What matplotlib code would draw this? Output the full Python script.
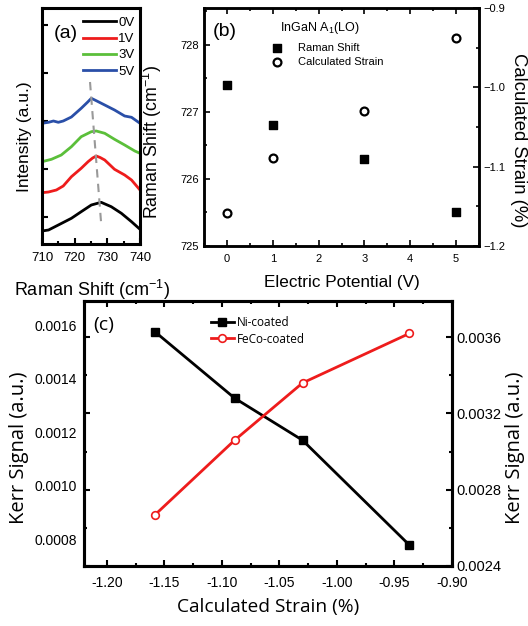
import matplotlib
matplotlib.use("Agg")
import matplotlib.pyplot as plt
from matplotlib.ticker import MultipleLocator, NullFormatter, FixedLocator

plt.rcParams['font.family'] = ['Liberation Sans', 'DejaVu Sans']
plt.rcParams['mathtext.fontset'] = 'custom'
plt.rcParams['mathtext.rm'] = 'Liberation Sans'

# ---------------- Panel (a): Raman spectra ----------------
wn_0V = [710, 712, 715, 719, 722, 725.1, 728.1, 731.2, 734.3, 737.4, 740]
int_0V = [13, 14, 19, 25.7, 32.3, 39, 41.7, 37.3, 30.7, 22.3, 14.7]
wn_1V = [710, 712, 714.4, 716.5, 719, 722, 724.1, 725.5, 726.6, 727.8, 729.2, 732.2, 735.3, 737.4, 740]
int_1V = [51.3, 52, 54, 58, 67.3, 75.7, 82.3, 86, 88, 86.5, 84, 74.7, 69, 64, 54]
wn_3V = [710, 712.9, 715.9, 719, 722, 725.1, 726.6, 729.2, 732.2, 735.3, 738.4, 740]
int_3V = [82.3, 84.7, 89, 97.3, 107.3, 112.3, 113, 110.7, 104.7, 99, 93, 90.7]
wn_5V = [710, 712, 713.5, 715, 716.5, 719, 722, 724, 725.1, 726.6, 729.2, 732.2, 735.3, 737.4, 740]
int_5V = [120.7, 121.7, 123, 121.7, 123, 127, 135.7, 142, 145.7, 143.3, 139, 134, 128, 126.7, 120.7]
spectra_labels = ['0V', '1V', '3V', '5V']
spectra_colors = ['#000000', '#ee1c1c', '#5bbf3a', '#2a4fa8']
peak_guide_wn = [724.7, 728.1]
peak_guide_int = [162, 21]

# ---------------- Panel (b): Raman shift & strain vs potential ----------------
potential_V = [0, 1, 3, 5]
raman_shift = [727.4, 726.8, 726.3, 725.5]
calc_strain = [-1.158, -1.089, -1.030, -0.938]

# ---------------- Panel (c): Kerr signal vs strain ----------------
strain_c = [-1.158, -1.089, -1.030, -0.937]
kerr_ni = [0.001574, 0.001327, 0.001170, 0.000778]
kerr_feco = [0.00267, 0.00306, 0.00336, 0.00362]

W, H = 528, 626
fig = plt.figure(figsize=(W / 100, H / 100), dpi=100)
OPEN = ['Open Sans', 'DejaVu Sans']


def rect(l, t, r, b):
    return [l / W, 1 - b / H, (r - l) / W, (b - t) / H]


def ftxt(x, y, s, **kw):
    fig.text(x / W, 1 - y / H, s, ha='center', va='center', **kw)


# ----- (a)
axa = fig.add_axes(rect(42, 8, 140, 244))
for wn, it, lab, col in zip([wn_0V, wn_1V, wn_3V, wn_5V], [int_0V, int_1V, int_3V, int_5V],
                            spectra_labels, spectra_colors):
    axa.plot(wn, it, color=col, lw=2.0, label=lab)
axa.plot(peak_guide_wn, peak_guide_int, color='#999999', lw=1.5, ls=(0, (4, 3)))
axa.set_xlim(710, 740)
axa.set_ylim(0, 236)
axa.xaxis.set_major_locator(FixedLocator([710, 720, 730, 740]))
axa.xaxis.set_minor_locator(MultipleLocator(5))
axa.yaxis.set_major_locator(FixedLocator([27, 75, 123, 171, 219]))
axa.yaxis.set_major_formatter(NullFormatter())
axa.tick_params(which='both', direction='in', width=1.5)
axa.tick_params(which='major', length=4)
axa.tick_params(which='minor', length=2)
axa.tick_params(axis='x', labelsize=9.5, pad=6)
for sp in axa.spines.values():
    sp.set_linewidth(2.2)
axa.legend(loc='upper right', bbox_to_anchor=(1.0, 0.985), frameon=False, fontsize=9.5,
           handlelength=2.5, handletextpad=0.2, labelspacing=0.3, borderaxespad=0.1,
           borderpad=0.3)
axa.text(0.12, 0.89, '(a)', transform=axa.transAxes, fontsize=14, ha='left', va='center')
ftxt(25, 137, 'Intensity (a.u.)', rotation=90, fontsize=12.5)
ftxt(92, 290, 'Raman Shift (cm$^{-1}$)', fontsize=13)

# ----- (b)
axb = fig.add_axes(rect(204, 8, 479, 246))
axb.scatter(potential_V, raman_shift, marker='s', s=34, color='black', label='Raman Shift', zorder=3)
axb.set_xlim(-0.5, 5.5)
axb.set_ylim(725, 728.55)
axb.xaxis.set_major_locator(MultipleLocator(1))
axb.xaxis.set_minor_locator(MultipleLocator(0.5))
axb.yaxis.set_major_locator(MultipleLocator(1))
axb.yaxis.set_minor_locator(MultipleLocator(0.5))
axb.tick_params(which='both', direction='in', top=True, labelsize=8, width=1.2)
axb.tick_params(which='major', length=4)
axb.tick_params(which='minor', length=2)
axb.tick_params(axis='x', pad=6)
for sp in axb.spines.values():
    sp.set_linewidth(1.8)
axb2 = axb.twinx()
axb2.scatter(potential_V, calc_strain, marker='o', s=32, facecolor='white', edgecolor='black',
             linewidths=1.6, label='Calculated Strain', zorder=3)
axb2.set_ylim(-1.2, -0.9)
axb2.yaxis.set_major_locator(MultipleLocator(0.1))
axb2.yaxis.set_minor_locator(MultipleLocator(0.05))
axb2.tick_params(which='both', direction='in', labelsize=8, width=1.2)
axb2.tick_params(which='major', length=4)
axb2.tick_params(which='minor', length=2)
for sp in axb2.spines.values():
    sp.set_linewidth(1.8)
h1, l1 = axb.get_legend_handles_labels()
h2, l2 = axb2.get_legend_handles_labels()
axb2.legend(h1 + h2, l1 + l2, loc='upper left', bbox_to_anchor=(0.2, 0.88), frameon=False,
            fontsize=8, handletextpad=0.9, labelspacing=0.3, borderaxespad=0.2, scatterpoints=1)
axb.text(0.03, 0.9, '(b)', transform=axb.transAxes, fontsize=14, ha='left', va='center')
axb.text(0.275, 0.915, 'InGaN A$_1$(LO)', transform=axb.transAxes, fontsize=9, ha='left', va='center')
ftxt(152, 142, 'Raman Shift (cm$^{-1}$)', rotation=90, fontsize=12.8)
ftxt(519, 140, 'Calculated Strain (%)', rotation=270, fontsize=13.3)
ftxt(342, 283, 'Electric Potential (V)', fontsize=12.3)

# ----- (c)
axc = fig.add_axes(rect(84, 301, 452, 566))
axc.plot(strain_c, kerr_ni, color='black', lw=2.0, marker='s', ms=5.2, label='Ni-coated', zorder=3)
axc.set_xlim(-1.22, -0.90)
axc.set_ylim(0.0007, 0.00169)
axc.xaxis.set_major_locator(MultipleLocator(0.05))
axc.xaxis.set_minor_locator(MultipleLocator(0.025))
axc.xaxis.set_major_formatter(plt.FuncFormatter(lambda v, p: f'{v:.2f}'))
axc.yaxis.set_major_locator(MultipleLocator(0.0002))
axc.yaxis.set_major_formatter(plt.FuncFormatter(lambda v, p: f'{v:.4f}'))
axc.tick_params(which='both', direction='in', top=True, labelsize=10, width=1.5)
axc.tick_params(which='major', length=4)
axc.tick_params(which='minor', length=2)
axc.tick_params(axis='x', pad=7)
axc.tick_params(axis='y', length=0, pad=5)
for sp in axc.spines.values():
    sp.set_linewidth(2.2)
axc2 = axc.twinx()
axc2.plot(strain_c, kerr_feco, color='#ee1c1c', lw=2.0, marker='o', ms=5.5, mfc='white',
          mec='#ee1c1c', mew=1.2, label='FeCo-coated', zorder=3)
axc2.set_ylim(0.0024, 0.00379)
axc2.yaxis.set_major_locator(MultipleLocator(0.0004))
axc2.yaxis.set_minor_locator(MultipleLocator(0.0002))
axc2.yaxis.set_major_formatter(plt.FuncFormatter(lambda v, p: f'{v:.4f}'))
axc2.tick_params(which='both', direction='in', labelsize=10.5, width=1.5, left=True)
axc2.tick_params(which='major', length=4)
axc2.tick_params(which='minor', length=2)
for sp in axc2.spines.values():
    sp.set_linewidth(2.2)
h1, l1 = axc.get_legend_handles_labels()
h2, l2 = axc2.get_legend_handles_labels()
axc2.legend(h1 + h2, l1 + l2, loc='upper left', bbox_to_anchor=(0.325, 0.97), frameon=False,
            prop={'family': OPEN, 'size': 8.5}, handlelength=2.0,
            handletextpad=0.2, labelspacing=0.3, borderaxespad=0.2)
axc.text(0.025, 0.91, '(c)', transform=axc.transAxes, fontsize=14, ha='left', va='center',
         family=OPEN)
ftxt(19, 448, 'Kerr Signal (a.u.)', rotation=90, fontsize=14.5, family=OPEN)
ftxt(515, 448, 'Kerr Signal (a.u.)', rotation=90, fontsize=14.5, family=OPEN)
ftxt(268, 607, 'Calculated Strain (%)', fontsize=13.8, family=OPEN)

fig.savefig('out.png', dpi=100)
